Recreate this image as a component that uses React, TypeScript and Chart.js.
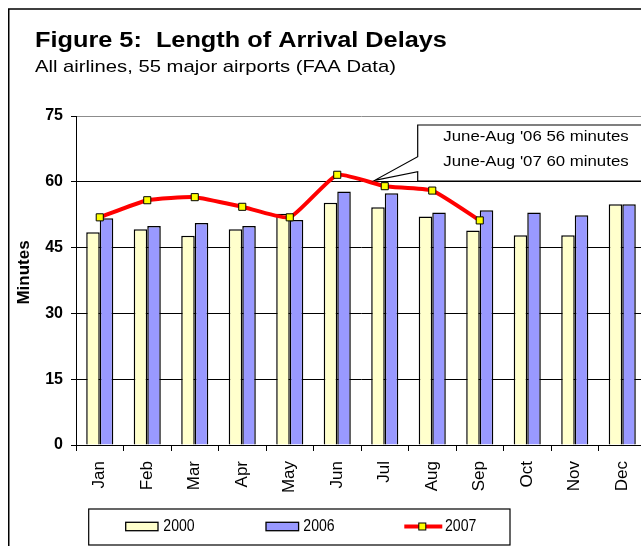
import React, { useEffect, useRef } from "react";
import { Chart, registerables } from "chart.js";

Chart.register(...registerables);

const months = ["Jan", "Feb", "Mar", "Apr", "May", "Jun", "Jul", "Aug", "Sep", "Oct", "Nov", "Dec"];
const values2000 = [48.5, 49.2, 47.7, 49.2, 52.7, 55.2, 54.2, 52.1, 48.9, 47.8, 47.8, 54.9];
const values2006 = [51.7, 49.9, 50.6, 49.9, 51.3, 57.8, 57.4, 53.0, 53.5, 53.0, 52.4, 54.9];
const values2007 = [51.9, 55.8, 56.5, 54.3, 51.9, 61.6, 59.0, 58.0, 51.2, null, null, null];
const seriesNames = ["2000", "2006", "2007"];
const yMin = 0;
const yMax = 75;
const yStep = 15;
const titleText = "Figure 5:  Length of Arrival Delays";
const subtitleText = "All airlines, 55 major airports (FAA Data)";
const yTitle = "Minutes";
const calloutLines = ["June-Aug '06 56 minutes", "June-Aug '07 60 minutes"];

const FONT = "'Liberation Sans', Arial, Helvetica, sans-serif";

function drawText(ctx: CanvasRenderingContext2D, text: string, x: number, y: number, font: string, sx: number) {
  ctx.save();
  ctx.font = font;
  ctx.translate(x, y);
  ctx.scale(sx, 1);
  ctx.fillText(text, 0, 0);
  ctx.restore();
}

const decorPlugin = {
  id: "decor",
  beforeDraw(chart: any) {
    const ctx = chart.ctx as CanvasRenderingContext2D;
    ctx.save();
    ctx.fillStyle = "#ffffff";
    ctx.fillRect(0, 0, chart.width, chart.height);
    ctx.restore();
  },
  afterDraw(chart: any) {
    const ctx = chart.ctx as CanvasRenderingContext2D;
    ctx.save();
    // outer frame
    ctx.strokeStyle = "#000";
    ctx.lineWidth = 1.5;
    ctx.strokeRect(0.75, 1, chart.width + 20, chart.height + 20);

    // titles
    ctx.fillStyle = "#000";
    ctx.textBaseline = "alphabetic";
    ctx.textAlign = "left";
    drawText(ctx, titleText, 27, 38.7, `bold 22px ${FONT}`, 1.15);
    drawText(ctx, subtitleText, 27, 64.3, `17px ${FONT}`, 1.19);

    // y title
    ctx.save();
    ctx.translate(16.5, 264.5);
    ctx.rotate(-Math.PI / 2);
    ctx.font = `bold 17px ${FONT}`;
    ctx.textAlign = "center";
    ctx.textBaseline = "middle";
    ctx.fillText(yTitle, 0, 0);
    ctx.restore();

    // callout
    const xs = chart.scales.x;
    const ys = chart.scales.y;
    const tipX = xs.getPixelForValue(6) - 10;
    const tipY = ys.getPixelForValue(60) - 1.5;
    const left = 409.7, top = 117, bottom = 173, right = chart.width + 20;
    ctx.beginPath();
    ctx.moveTo(left, top);
    ctx.lineTo(right, top);
    ctx.lineTo(right, bottom);
    ctx.lineTo(left, bottom);
    ctx.lineTo(left, 163.7);
    ctx.lineTo(tipX, tipY);
    ctx.lineTo(left, 148.7);
    ctx.closePath();
    ctx.fillStyle = "#fff";
    ctx.fill();
    ctx.strokeStyle = "#000";
    ctx.lineWidth = 1.2;
    ctx.stroke();
    ctx.fillStyle = "#000";
    ctx.textBaseline = "middle";
    drawText(ctx, calloutLines[0], 435.3, 129, `15px ${FONT}`, 1.12);
    drawText(ctx, calloutLines[1], 435.3, 153.7, `15px ${FONT}`, 1.12);

    // legend
    const ds = chart.data.datasets;
    const d2000 = ds.find((d: any) => d.label === seriesNames[0]);
    const d2006 = ds.find((d: any) => d.label === seriesNames[1]);
    const d2007 = ds.find((d: any) => d.label === seriesNames[2]);
    ctx.lineWidth = 1.2;
    ctx.strokeStyle = "#000";
    ctx.strokeRect(80.7, 501, 421.3, 36);
    const ly = 518.5;
    // 2000
    ctx.fillStyle = d2000.backgroundColor;
    ctx.fillRect(117.7, 514.3, 32.3, 8.4);
    ctx.lineWidth = 1.3;
    ctx.strokeRect(117.7, 514.3, 32.3, 8.4);
    // 2006
    ctx.fillStyle = d2006.backgroundColor;
    ctx.fillRect(258, 514.3, 32.6, 8.4);
    ctx.strokeRect(258, 514.3, 32.6, 8.4);
    // 2007
    ctx.strokeStyle = d2007.borderColor;
    ctx.lineWidth = 4;
    ctx.beginPath();
    ctx.moveTo(396.3, ly);
    ctx.lineTo(434.3, ly);
    ctx.stroke();
    ctx.fillStyle = d2007.pointBackgroundColor;
    ctx.fillRect(410.8, ly - 3.5, 7, 7);
    ctx.strokeStyle = "#000";
    ctx.lineWidth = 1;
    ctx.strokeRect(410.8, ly - 3.5, 7, 7);

    ctx.fillStyle = "#000";
    ctx.textBaseline = "middle";
    drawText(ctx, seriesNames[0], 155.3, ly, `16px ${FONT}`, 0.88);
    drawText(ctx, seriesNames[1], 295.3, ly, `16px ${FONT}`, 0.88);
    drawText(ctx, seriesNames[2], 437, ly, `16px ${FONT}`, 0.88);
    ctx.restore();
  },
};

export default function App() {
  const ref = useRef<HTMLCanvasElement | null>(null);
  useEffect(() => {
    if (!ref.current) return;
    const chart = new Chart(ref.current, {
      type: "bar",
      data: {
        labels: months,
        datasets: [
          {
            type: "line",
            label: seriesNames[2],
            data: values2007,
            borderColor: "#FF0000",
            borderWidth: 4,
            pointStyle: "rect",
            pointRadius: 5,
            pointBackgroundColor: "#FFFF00",
            pointBorderColor: "#000000",
            pointBorderWidth: 1,
            tension: 0.15,
            order: 0,
            spanGaps: false,
          } as any,
          {
            label: seriesNames[0],
            data: values2000,
            backgroundColor: "#FFFFCC",
            borderColor: "#000000",
            borderWidth: 1.5,
            barPercentage: 1,
            categoryPercentage: 0.57,
            order: 1,
          },
          {
            label: seriesNames[1],
            data: values2006,
            backgroundColor: "#9999FF",
            borderColor: "#000000",
            borderWidth: 1.5,
            barPercentage: 1,
            categoryPercentage: 0.57,
            order: 1,
          },
        ],
      },
      options: {
        responsive: false,
        animation: false,
        devicePixelRatio: 1,
        layout: { padding: { top: 108, left: 0, right: 12, bottom: 50 } },
        plugins: {
          legend: { display: false },
          title: { display: false },
          tooltip: { enabled: false },
        },
        scales: {
          x: {
            offset: true,
            grid: { drawOnChartArea: false, drawTicks: true, tickLength: 6, tickColor: "#000", offset: true },
            border: { color: "#000", width: 1 },
            ticks: {
              maxRotation: 90,
              minRotation: 90,
              autoSkip: false,
              padding: 10,
              color: "#000",
              font: { family: FONT, size: 17 },
            },
            afterFit(s: any) {
              s.height = 51;
            },
          },
          y: {
            min: yMin,
            max: yMax,
            ticks: {
              stepSize: yStep,
              padding: 8,
              color: "#000",
              font: { family: FONT, size: 16, weight: "bold" },
            },
            grid: {
              color: (c: any) => (c.tick && c.tick.value === yMax ? "#8c8c8c" : "#000"),
              tickLength: 5,
              tickColor: "#000",
              lineWidth: 1,
            },
            border: { color: "#000", width: 1 },
            afterFit(s: any) {
              s.width = 68;
            },
          },
        },
      } as any,
      plugins: [decorPlugin],
    });
    return () => chart.destroy();
  }, []);

  return (
    <div style={{ position: "absolute", left: 8, top: 8, width: 633, height: 538, overflow: "hidden", background: "#fff" }}>
      <canvas ref={ref} width={650} height={538} style={{ display: "block" }} />
    </div>
  );
}
